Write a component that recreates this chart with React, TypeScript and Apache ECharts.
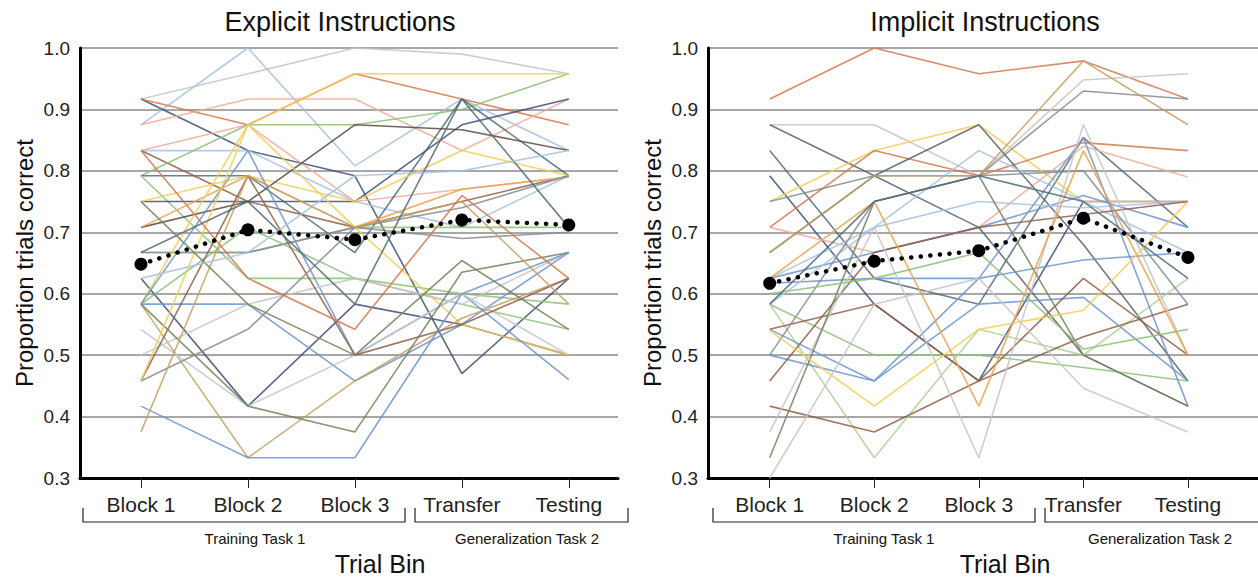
import React, { useEffect, useRef } from "react";
import * as echarts from "echarts";

const categories = ["Block 1", "Block 2", "Block 3", "Transfer", "Testing"];
const yTicks = [0.3, 0.4, 0.5, 0.6, 0.7, 0.8, 0.9, 1.0];

const explicitMean = [0.648, 0.704, 0.688, 0.72, 0.712];
const implicitMean = [0.617, 0.653, 0.67, 0.723, 0.659];

const C = {
  lightgray: "#c6c6c6",
  lightblue: "#a6c2e0",
  navy: "#3d4e78",
  orangeRed: "#d4784f",
  salmon: "#f1ad96",
  green: "#8dbf76",
  lightgreen: "#abd292",
  teal: "#4f6d78",
  yellow: "#f6cd52",
  blue: "#6f94cf",
  brown: "#8e5f48",
  darkbrown: "#5a4a40",
  olive: "#72845a",
  tan: "#c6a162",
  gray: "#868c92",
  darkgray: "#58636a",
  orange: "#f0a04b",
};

const explicitLines: number[][] = [
  [0.917, 0.958, 1.0, 0.99, 0.958],
  [0.875, 1.0, 0.808, 0.917, 0.833],
  [0.917, 0.833, 0.792, 0.47, 0.625],
  [0.917, 0.875, 0.958, 0.917, 0.875],
  [0.875, 0.917, 0.917, 0.833, 0.917],
  [0.833, 0.833, 0.75, 0.708, 0.792],
  [0.833, 0.75, 0.708, 0.75, 0.792],
  [0.833, 0.875, 0.75, 0.77, 0.79],
  [0.792, 0.875, 0.875, 0.9, 0.958],
  [0.792, 0.792, 0.667, 0.917, 0.792],
  [0.792, 0.625, 0.625, 0.6, 0.583],
  [0.75, 0.75, 0.75, 0.875, 0.917],
  [0.75, 0.792, 0.75, 0.833, 0.792],
  [0.708, 0.75, 0.875, 0.867, 0.833],
  [0.708, 0.792, 0.708, 0.77, 0.79],
  [0.667, 0.667, 0.708, 0.708, 0.708],
  [0.667, 0.667, 0.708, 0.69, 0.7],
  [0.625, 0.417, 0.583, 0.55, 0.5],
  [0.583, 0.875, 0.708, 0.55, 0.5],
  [0.583, 0.583, 0.458, 0.55, 0.667],
  [0.583, 0.708, 0.625, 0.583, 0.542],
  [0.583, 0.333, 0.458, 0.56, 0.625],
  [0.583, 0.833, 0.5, 0.6, 0.46],
  [0.542, 0.417, 0.5, 0.6, 0.5],
  [0.5, 0.583, 0.625, 0.583, 0.667],
  [0.458, 0.792, 0.5, 0.55, 0.625],
  [0.458, 0.542, 0.708, 0.74, 0.792],
  [0.583, 0.417, 0.375, 0.635, 0.667],
  [0.417, 0.333, 0.333, 0.6, 0.667],
  [0.375, 0.792, 0.708, 0.75, 0.583],
  [0.458, 0.875, 0.958, 0.958, 0.958],
  [0.833, 0.625, 0.542, 0.76, 0.625],
  [0.667, 0.75, 0.583, 0.917, 0.708],
  [0.75, 0.583, 0.5, 0.654, 0.542],
  [0.625, 0.667, 0.792, 0.8, 0.833],
];
const explicitColors = [
  C.lightgray, C.lightblue, C.navy, C.orangeRed, C.salmon, C.lightblue, C.brown, C.salmon,
  C.green, C.teal, C.green, C.navy, C.yellow, C.darkbrown, C.orange, C.green, C.gray,
  C.navy, C.yellow, C.blue, C.green, C.tan, C.blue, C.lightgray, C.lightgray, C.brown,
  C.gray, C.olive, C.blue, C.tan, C.yellow, C.orangeRed, C.teal, C.olive, C.lightblue,
];

const implicitLines: number[][] = [
  [0.917, 1.0, 0.958, 0.979, 0.917],
  [0.875, 0.875, 0.792, 0.948, 0.958],
  [0.875, 0.792, 0.708, 0.5, 0.417],
  [0.833, 0.625, 0.583, 0.854, 0.708],
  [0.792, 0.583, 0.458, 0.75, 0.75],
  [0.75, 0.833, 0.875, 0.75, 0.75],
  [0.75, 0.792, 0.792, 0.93, 0.917],
  [0.708, 0.833, 0.792, 0.846, 0.833],
  [0.708, 0.667, 0.708, 0.84, 0.79],
  [0.667, 0.792, 0.875, 0.68, 0.458],
  [0.625, 0.667, 0.708, 0.76, 0.708],
  [0.625, 0.708, 0.833, 0.75, 0.667],
  [0.617, 0.625, 0.625, 0.655, 0.667],
  [0.583, 0.5, 0.5, 0.48, 0.458],
  [0.583, 0.333, 0.542, 0.5, 0.625],
  [0.583, 0.708, 0.75, 0.74, 0.75],
  [0.542, 0.458, 0.625, 0.854, 0.417],
  [0.542, 0.583, 0.458, 0.53, 0.583],
  [0.5, 0.458, 0.583, 0.594, 0.458],
  [0.5, 0.75, 0.792, 0.8, 0.583],
  [0.458, 0.667, 0.708, 0.729, 0.75],
  [0.417, 0.375, 0.458, 0.625, 0.5],
  [0.375, 0.708, 0.333, 0.875, 0.5],
  [0.333, 0.75, 0.792, 0.5, 0.417],
  [0.3, 0.583, 0.625, 0.446, 0.375],
  [0.54, 0.417, 0.542, 0.573, 0.75],
  [0.625, 0.75, 0.417, 0.833, 0.5],
  [0.6, 0.625, 0.667, 0.51, 0.542],
  [0.667, 0.792, 0.792, 0.979, 0.875],
  [0.583, 0.75, 0.792, 0.75, 0.625],
];
const implicitColors = [
  C.orangeRed, C.lightgray, C.darkgray, C.teal, C.navy, C.yellow, C.gray, C.orangeRed,
  C.salmon, C.darkgray, C.blue, C.lightblue, C.blue, C.green, C.lightgreen, C.lightblue,
  C.blue, C.brown, C.blue, C.gray, C.brown, C.brown, C.lightgray, C.olive, C.lightgray,
  C.yellow, C.orange, C.green, C.tan, C.teal,
];

const FONT = "'Liberation Sans', Arial, Helvetica, sans-serif";

export default function App() {
  const ref = useRef<HTMLDivElement>(null);
  useEffect(() => {
    if (!ref.current) return;
    const chart = echarts.init(ref.current, undefined, { renderer: "svg" });

    const xAxisFor = (gridIndex: number, min: number, max: number) => ({
      type: "value",
      gridIndex,
      min,
      max,
      axisLine: { show: true, onZero: false, lineStyle: { color: "#000", width: 3 } },
      axisTick: {
        show: true,
        customValues: [0, 1, 2, 3, 4],
        length: 10,
        lineStyle: { color: "#222", width: 1 },
      },
      axisLabel: {
        show: true,
        customValues: [0, 1, 2, 3, 4],
        formatter: (v: number) => categories[Math.round(v)] ?? "",
        fontSize: 21,
        color: "#222",
        margin: 16,
        fontFamily: FONT,
      },
      splitLine: { show: false },
    });

    const yAxisFor = (gridIndex: number) => ({
      type: "value",
      gridIndex,
      min: yTicks[0],
      max: yTicks[yTicks.length - 1],
      interval: 0.1,
      name: "Proportion trials correct",
      nameLocation: "middle",
      nameGap: 44,
      nameTextStyle: { fontSize: 24, color: "#111", fontFamily: FONT },
      axisLine: { show: true, onZero: false, lineStyle: { color: "#000", width: 3 } },
      axisTick: { show: false },
      axisLabel: {
        formatter: (v: number) => v.toFixed(1),
        fontSize: 19,
        color: "#222",
        margin: 10,
        fontFamily: FONT,
      },
      splitLine: { show: true, lineStyle: { color: "#8a8a8a", width: 1.5 } },
    });

    const subjSeries = (lines: number[][], colors: string[], idx: number) =>
      lines.map((vals, i) => ({
        type: "line",
        xAxisIndex: idx,
        yAxisIndex: idx,
        data: vals.map((v, j) => [j, v]),
        symbol: "none",
        silent: true,
        lineStyle: { color: colors[i % colors.length], width: 1.6, opacity: 0.85 },
        z: 2,
      }));

    const meanSeries = (vals: number[], idx: number) => ({
      type: "line",
      xAxisIndex: idx,
      yAxisIndex: idx,
      data: vals.map((v, j) => [j, v]),
      symbol: "circle",
      symbolSize: 13,
      itemStyle: { color: "#000" },
      lineStyle: { color: "#000", width: 4.5, type: [0.1, 9.5], cap: "round" },
      z: 10,
    });

    const bracket = (x1: number, x2: number, closeRight = true) => ({
      type: "polyline",
      shape: {
        points: closeRight
          ? [[x1, 508], [x1, 522], [x2, 522], [x2, 508]]
          : [[x1, 508], [x1, 522], [x2, 522]],
      },
      style: { stroke: "#222", lineWidth: 1.2, fill: null },
    });
    const txt = (x: number, y: number, text: string, size: number) => ({
      type: "text",
      x,
      y,
      style: {
        text,
        fontSize: size,
        fill: "#111",
        fontFamily: FONT,
        textAlign: "center",
        textVerticalAlign: "middle",
      },
    });

    chart.setOption({
      animation: false,
      backgroundColor: "#fff",
      grid: [
        { left: 80, top: 48, width: 538, height: 430 },
        { left: 708, top: 48, width: 560, height: 430 },
      ],
      xAxis: [xAxisFor(0, -0.57, 4.46), xAxisFor(1, -0.59, 4.67)],
      yAxis: [yAxisFor(0), yAxisFor(1)],
      series: [
        ...subjSeries(explicitLines, explicitColors, 0),
        ...subjSeries(implicitLines, implicitColors, 1),
        meanSeries(explicitMean, 0),
        meanSeries(implicitMean, 1),
      ],
      graphic: [
        txt(340, 22, "Explicit Instructions", 27),
        txt(985, 22, "Implicit Instructions", 27),
        bracket(83, 405),
        bracket(415, 628),
        bracket(713, 1035),
        bracket(1045, 1262, false),
        txt(255, 538, "Training Task 1", 15),
        txt(527, 538, "Generalization Task 2", 15),
        txt(884, 538, "Training Task 1", 15),
        txt(1160, 538, "Generalization Task 2", 15),
        txt(380, 564, "Trial Bin", 25),
        txt(1005, 564, "Trial Bin", 25),
      ],
    });
    return () => chart.dispose();
  }, []);

  return (
    <div
      ref={ref}
      style={{ position: "fixed", left: 0, top: 0, width: 1258, height: 578, background: "#fff" }}
    />
  );
}
